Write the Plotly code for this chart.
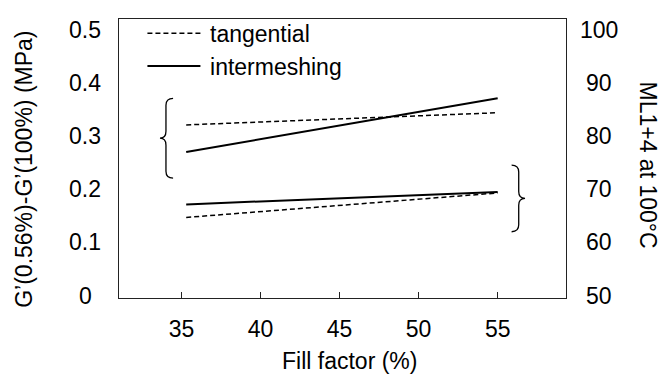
import plotly.graph_objects as go

# ---- data ----
fill_factor = [35.3, 55]
g_tangential = [0.321, 0.344]      # left axis (MPa)
g_intermeshing = [0.270, 0.371]    # left axis (MPa)
ml_tangential = [64.7, 69.3]       # right axis
ml_intermeshing = [67.15, 69.5]    # right axis

x_ticks = [35, 40, 45, 50, 55]
y1_ticks = [0, 0.1, 0.2, 0.3, 0.4, 0.5]
y1_labels = ["0", "0.1", "0.2", "0.3", "0.4", "0.5"]
y2_ticks = [50, 60, 70, 80, 90, 100]
y2_labels = ["50", "60", "70", "80", "90", "100"]

# brace groupings (data units)
left_brace_span = [0.221, 0.371]
right_brace_span = [62.0, 74.55]

FONT = "Liberation Sans, Arial, sans-serif"
FS = 23
X_RANGE = [31.05, 59.32]
Y1_RANGE = [-0.0046, 0.5203]
Y2_RANGE = [50 - 0.46, 50 + 52.03]

fig = go.Figure()
fig.add_trace(go.Scatter(x=fill_factor, y=g_tangential, mode="lines", name="\u2009tangential",
                         line=dict(color="black", width=1.5, dash="5px,3px"), legendrank=1))
fig.add_trace(go.Scatter(x=fill_factor, y=g_intermeshing, mode="lines", name="\u2009intermeshing",
                         line=dict(color="black", width=2), legendrank=2))
fig.add_trace(go.Scatter(x=fill_factor, y=ml_tangential, mode="lines", name="tangential",
                         line=dict(color="black", width=1.5, dash="5px,3px"), yaxis="y2", showlegend=False))
fig.add_trace(go.Scatter(x=fill_factor, y=ml_intermeshing, mode="lines", name="intermeshing",
                         line=dict(color="black", width=2), yaxis="y2", showlegend=False))


def brace(x_mid, x_tip, x_end, y_bot, y_top, r):
    yc = (y_bot + y_top) / 2
    return (f"M {x_end},{y_top} Q {x_mid},{y_top} {x_mid},{y_top - r} "
            f"L {x_mid},{yc + r} Q {x_mid},{yc} {x_tip},{yc} "
            f"Q {x_mid},{yc} {x_mid},{yc - r} L {x_mid},{y_bot + r} "
            f"Q {x_mid},{y_bot} {x_end},{y_bot}")


fig.add_shape(type="path", xref="x", yref="y",
              path=brace(34.02, 33.64, 34.47, left_brace_span[0], left_brace_span[1], 0.013),
              line=dict(color="black", width=1.3))
fig.add_shape(type="path", xref="x", yref="y2",
              path=brace(56.33, 56.73, 55.88, right_brace_span[0], right_brace_span[1], 1.3),
              line=dict(color="black", width=1.3))

ann = []
for v, t in zip(y1_ticks, y1_labels):
    ann.append(dict(x=-0.076, xref="paper", y=v, yref="y", text=t, showarrow=False,
                    xanchor="center", yanchor="middle", font=dict(size=FS)))
for v, t in zip(y2_ticks, y2_labels):
    ann.append(dict(x=1.0738, xref="paper", y=v, yref="y2", text=t, showarrow=False,
                    xanchor="center", yanchor="middle", font=dict(size=FS)))
ann.append(dict(x=-0.2125, xref="paper", y=0.4595, yref="paper", text="G’(0.56%)-G’(100%) (MPa)",
                textangle=-90, showarrow=False, xanchor="center", yanchor="middle", font=dict(size=FS)))
ann.append(dict(x=1.1834, xref="paper", y=0.475, yref="paper", text="ML1+4 at 100°C",
                textangle=90, showarrow=False, xanchor="center", yanchor="middle", font=dict(size=FS)))
ann.append(dict(x=0.5157, xref="paper", y=-0.225, yref="paper", text="Fill factor (%)",
                showarrow=False, xanchor="center", yanchor="middle", font=dict(size=FS)))

fig.update_layout(
    width=660, height=376,
    margin=dict(l=119, r=94, t=14, b=78),
    paper_bgcolor="white", plot_bgcolor="white",
    font=dict(family=FONT, size=FS, color="black"),
    showlegend=True,
    legend=dict(x=0.0524, y=1.026, xanchor="left", yanchor="top", bgcolor="rgba(0,0,0,0)",
                itemwidth=53, font=dict(size=FS), tracegroupgap=0),
    xaxis=dict(range=X_RANGE, tickvals=x_ticks, ticks="inside", ticklen=6, tickcolor="#222",
               showgrid=False, zeroline=False, showline=True, linecolor="#222", linewidth=1.3,
               mirror=True, ticklabelstandoff=10, tickfont=dict(size=FS)),
    yaxis=dict(range=Y1_RANGE, tickvals=y1_ticks, showticklabels=False, ticks="",
               showgrid=False, zeroline=False, showline=True, linecolor="#222", linewidth=1.3,
               mirror=True),
    yaxis2=dict(range=Y2_RANGE, overlaying="y", side="right", tickvals=y2_ticks,
                showticklabels=False, ticks="", showgrid=False, zeroline=False, showline=False),
    annotations=ann,
)

fig.write_html("out.html")
